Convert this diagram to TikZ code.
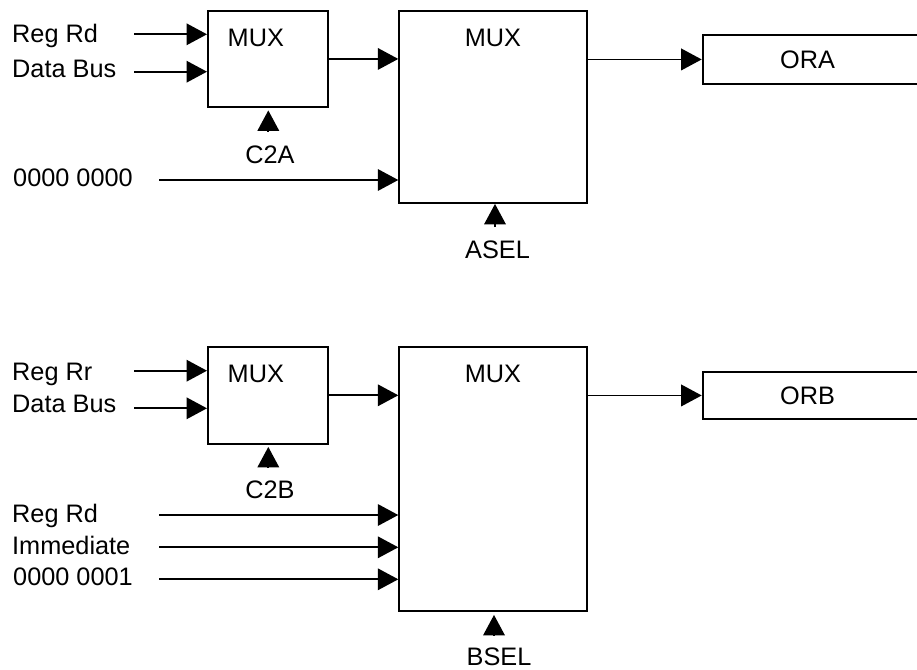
\documentclass[tikz,border=0pt]{standalone}
\usepackage{fontspec}
\setmainfont{Liberation Sans}
\usetikzlibrary{arrows.meta}
\begin{document}
\begin{tikzpicture}[x=1pt,y=-1pt,
  box/.style={draw, line width=1.9pt, rectangle, inner sep=0pt, anchor=north west},
  lbl/.style={inner sep=0pt, font=\fontsize{25.3}{30}\selectfont},
  arr/.style={line width=1.9pt, -{Triangle[length=20.5pt,width=21.5pt]}},
]
\useasboundingbox (0,0) rectangle (917,669);
\clip (0,0) rectangle (917,669);

% ---------- top half ----------
\node[box, minimum width=120pt, minimum height=96pt] (ma) at (207,10) {};
\node[box, minimum width=187.4pt, minimum height=192pt] (mb) at (398.3,10) {};
\node[box, minimum width=240pt, minimum height=48.4pt] (ora) at (701.7,34.3) {};

\node[lbl, anchor=base] (ma-t) at (255.8,46.7) {MUX};
\node[lbl, anchor=base] (mb-t) at (493,46.7) {MUX};
\node[lbl, anchor=base] (ora-t) at (807.5,68.3) {ORA};

\node[lbl, anchor=base west] (t-regrd) at (12,42.7) {Reg Rd};
\node[lbl, anchor=base west] (t-dbus) at (12,77.3) {Data Bus};
\node[lbl, anchor=base west] (t-zero) at (13,186.7) {0000 0000};
\node[lbl, anchor=base] (t-c2a) at (270,163.3) {C2A};
\node[lbl, anchor=base] (t-asel) at (497.5,258.3) {ASEL};

\coordinate (i1) at (134,34.3);
\coordinate (i2) at (134,71.7);
\coordinate (i3) at (159,180);
\coordinate (c2a) at (268.3,131.7);
\coordinate (asel) at (495,227);

\draw[arr] (i1) -- (i1 -| ma.west);
\draw[arr] (i2) -- (i2 -| ma.west);
\draw[arr] (i3) -- (i3 -| mb.west);
\draw[arr] (ma.east) -- (ma.east -| mb.west);
\draw[arr] (mb.east |- ora.west) -- (ora.west);
\draw[arr] (c2a) -- ([yshift=-2.5pt]ma.south -| c2a);
\draw[arr] (asel) -- (mb.south -| asel);

% ---------- bottom half ----------
\node[box, minimum width=120pt, minimum height=96.7pt] (mc) at (207,346) {};
\node[box, minimum width=187.4pt, minimum height=264pt] (md) at (398.3,346) {};
\node[box, minimum width=240pt, minimum height=47.6pt] (orb) at (701.7,370.7) {};

\node[lbl, anchor=base] (mc-t) at (255.8,382.7) {MUX};
\node[lbl, anchor=base] (md-t) at (493,382.7) {MUX};
\node[lbl, anchor=base] (orb-t) at (807.5,404) {ORB};

\node[lbl, anchor=base west] (t-regrr) at (12,380) {Reg Rr};
\node[lbl, anchor=base west] (t-dbus2) at (12,412) {Data Bus};
\node[lbl, anchor=base west] (t-regrd2) at (12,522.7) {Reg Rd};
\node[lbl, anchor=base west] (t-imm) at (12,554) {Immediate};
\node[lbl, anchor=base west] (t-one) at (13,585) {0000 0001};
\node[lbl, anchor=base] (t-c2b) at (270,498.3) {C2B};
\node[lbl, anchor=base] (t-bsel) at (499,665) {BSEL};

\coordinate (j1) at (134,370.7);
\coordinate (j2) at (134,408.3);
\coordinate (j3) at (159,515);
\coordinate (j4) at (159,547.3);
\coordinate (j5) at (159,579.3);
\coordinate (c2b) at (268.3,467);
\coordinate (bsel) at (494,635);

\draw[arr] (j1) -- (j1 -| mc.west);
\draw[arr] (j2) -- (j2 -| mc.west);
\draw[arr] (j3) -- (j3 -| md.west);
\draw[arr] (j4) -- (j4 -| md.west);
\draw[arr] (j5) -- (j5 -| md.west);
\draw[arr] (mc.east) -- (mc.east -| md.west);
\draw[arr] (md.east |- orb.west) -- (orb.west);
\draw[arr] (c2b) -- ([yshift=-2.3pt]mc.south -| c2b);
\draw[arr] (bsel) -- ([yshift=-3pt]md.south -| bsel);
\end{tikzpicture}
\end{document}
